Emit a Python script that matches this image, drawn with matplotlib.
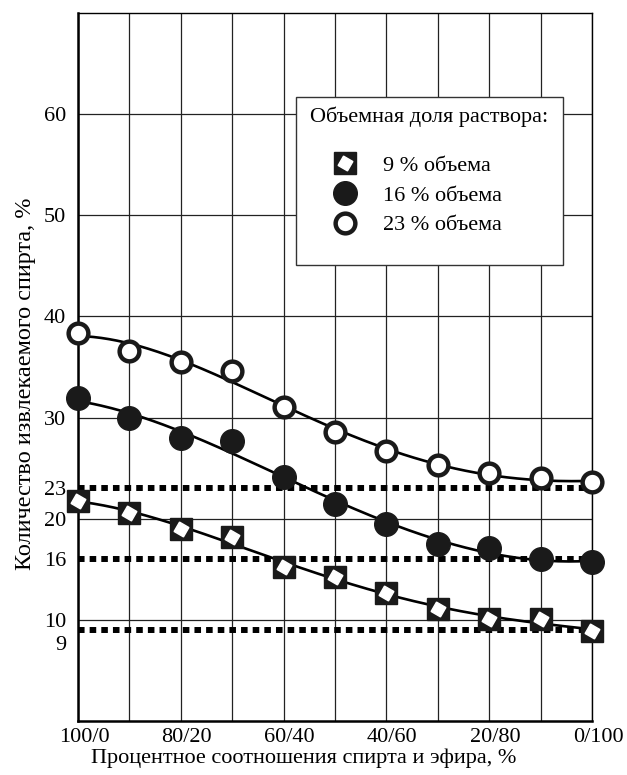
#!/usr/bin/env python3
"""Extracted alcohol vs. alcohol/ether ratio for three solution volume fractions."""

import matplotlib.pyplot as plt
import numpy as np
from matplotlib.legend_handler import HandlerTuple
from matplotlib.lines import Line2D
from matplotlib.patches import Rectangle
from matplotlib.transforms import ScaledTranslation

plt.rcParams["font.family"] = ["Liberation Serif", "DejaVu Serif"]

# Data
ratio_labels = ["100/0", "", "80/20", "", "60/40", "", "40/60", "", "20/80", "", "0/100"]
vol_9 = [21.8, 20.6, 19.0, 18.2, 15.2, 14.2, 12.7, 11.1, 10.1, 10.1, 8.9]
vol_16 = [31.9, 30.0, 28.0, 27.7, 24.1, 21.5, 19.5, 17.5, 17.1, 16.0, 15.7]
vol_23 = [38.4, 36.6, 35.5, 34.6, 31.0, 28.6, 26.7, 25.3, 24.5, 24.0, 23.6]
ref_levels = [9, 16, 23]
series_labels = ["9 % объема", "16 % объема", "23 % объема"]

x = np.arange(len(ratio_labels))

fig = plt.figure(figsize=(6.27, 7.75), dpi=100)
ax = fig.add_axes([0.1244, 0.0697, 0.8198, 0.9135])
ax.set_xlim(0, len(ratio_labels) - 1)
ax.set_ylim(0, 70)

# Grid
ax.set_xticks(x)
ax.set_xticklabels(ratio_labels)
ax.set_yticks([10, 20, 30, 40, 50, 60])
ax.set_yticks([16, 23], minor=True)
ax.set_yticklabels(["16", "23"], minor=True)
ax.grid(True, which="major", color="#222222", linewidth=0.9)
ax.set_axisbelow(True)
ax.tick_params(which="both", length=0, labelsize=16)
ax.tick_params(axis="y", which="both", pad=8.5)
ax.tick_params(axis="x", pad=5)
for lab in ax.get_xticklabels():
    lab.set_transform(lab.get_transform() + ScaledTranslation(6 / 100, 0, fig.dpi_scale_trans))
ax.annotate("9", xy=(0, 9), xycoords=("axes fraction", "data"), xytext=(-8.5, -11),
            textcoords="offset points", ha="right", va="center", fontsize=16)

for side in ["left", "bottom"]:
    ax.spines[side].set_linewidth(1.8)
for side in ["top", "right"]:
    ax.spines[side].set_linewidth(1.0)

# Reference levels (dotted)
for lvl in ref_levels:
    ax.axhline(lvl, color="black", linewidth=4.3, linestyle=(0, (1.1, 0.85)),
               dash_capstyle="butt", zorder=2)

# Smoothed trend curves
xs = np.linspace(x[0], x[-1], 200)
for vals in [vol_9, vol_16, vol_23]:
    coef = np.polyfit(x, vals, 4)
    ax.plot(xs, np.polyval(coef, xs), color="black", linewidth=1.9, zorder=3)

# Markers
ax.plot(x, vol_9, linestyle="none", marker="s", ms=15.8, color="#1a1a1a", zorder=4,
        clip_on=False)
ax.plot(x, vol_9, linestyle="none", marker=(4, 0, 15), ms=11, color="white", zorder=5,
        clip_on=False)
ax.plot(x, vol_16, linestyle="none", marker="o", ms=17, color="#1a1a1a", zorder=4,
        clip_on=False)
ax.plot(x, vol_23, linestyle="none", marker="o", ms=14.2, mfc="white", mec="#1a1a1a",
        mew=3.2, zorder=4, clip_on=False)

# Legend box
ax.add_patch(Rectangle((0.424, 0.644), 0.52, 0.237, transform=ax.transAxes,
                       facecolor="white", edgecolor="#333333", linewidth=1.0, zorder=6))
ax.text(0.451, 0.853, "Объемная доля раствора:", transform=ax.transAxes,
        fontsize=16, va="center", ha="left", zorder=7)
h_sq = (Line2D([], [], linestyle="none", marker="s", ms=15.8, color="#1a1a1a"),
        Line2D([], [], linestyle="none", marker=(4, 0, 15), ms=11, color="white"))
h_fill = Line2D([], [], linestyle="none", marker="o", ms=17, color="#1a1a1a")
h_open = Line2D([], [], linestyle="none", marker="o", ms=14.2, mfc="white",
                mec="#1a1a1a", mew=3.2)
leg = ax.legend([h_sq, h_fill, h_open], series_labels,
                handler_map={tuple: HandlerTuple(ndivide=1)},
                loc="upper left", bbox_to_anchor=(0.476, 0.815), frameon=False,
                fontsize=16, borderpad=0, handlelength=1.0, handletextpad=1.2,
                labelspacing=0.42)
leg.set_zorder(8)

ax.set_xlabel("Процентное соотношения спирта и эфира, %", fontsize=16)
ax.set_ylabel("Количество извлекаемого спирта, %", fontsize=17.5)
ax.xaxis.set_label_coords(0.44, -0.039)
ax.yaxis.set_label_coords(-0.082, 0.477)

fig.savefig("out.png", dpi=100)
